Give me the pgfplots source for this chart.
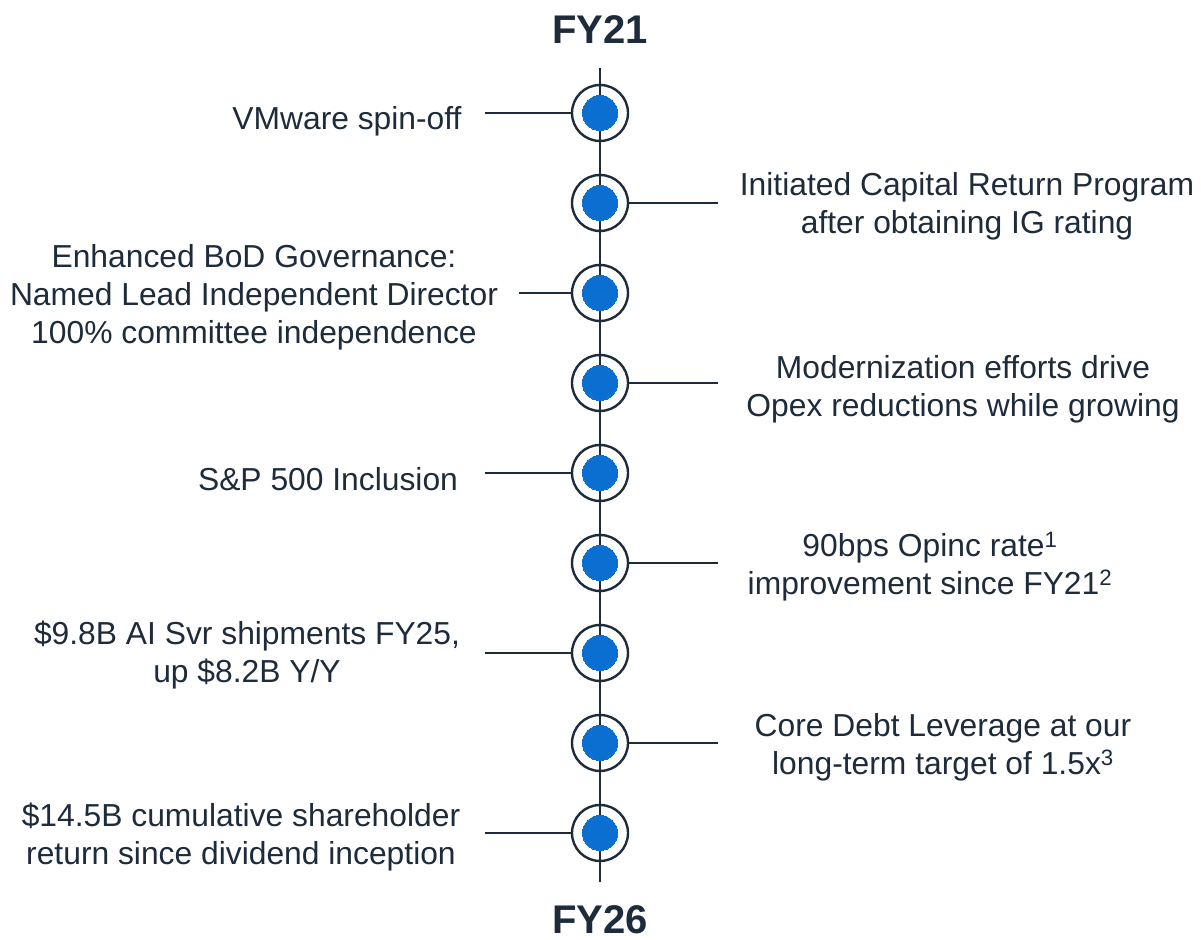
\documentclass[border=0pt]{standalone}
\usepackage{pgfplots}
\pgfplotsset{compat=1.18}
\usepackage{fontspec}
\setmainfont{Liberation Sans}
\definecolor{navy}{HTML}{1E2B3A}
\definecolor{dblue}{HTML}{0B6FD2}
\tikzset{lbl/.style={font=\fontsize{31.8bp}{38bp}\selectfont, text=navy, align=center, inner sep=0pt},
  ttl/.style={font=\fontsize{40bp}{44bp}\selectfont\bfseries, text=navy, inner sep=0pt}}
\begin{document}
\begin{tikzpicture}
\begin{axis}[
  scale only axis, width=1201bp, height=940bp,
  xmin=0, xmax=1201, ymin=0, ymax=940,
  axis lines=none, ticks=none, clip=false,
]
\path[draw=none] (rel axis cs:0,0) rectangle (rel axis cs:1,1);
% spine
\addplot[navy, line width=2bp, mark=none] coordinates {(600,872) (600,58)};
% connectors left
\addplot[navy, line width=1.6bp, mark=none] coordinates {(485,827) (572,827)};
\addplot[navy, line width=1.6bp, mark=none] coordinates {(519,647) (572,647)};
\addplot[navy, line width=1.6bp, mark=none] coordinates {(485,467) (572,467)};
\addplot[navy, line width=1.6bp, mark=none] coordinates {(485,287) (572,287)};
\addplot[navy, line width=1.6bp, mark=none] coordinates {(485,107) (572,107)};
% connectors right
\addplot[navy, line width=1.6bp, mark=none] coordinates {(628,737) (718,737)};
\addplot[navy, line width=1.6bp, mark=none] coordinates {(628,557) (718,557)};
\addplot[navy, line width=1.6bp, mark=none] coordinates {(628,377) (718,377)};
\addplot[navy, line width=1.6bp, mark=none] coordinates {(628,197) (718,197)};
% outer rings
\addplot[only marks, mark=o, mark size=28bp, mark options={draw=navy, fill=none, line width=2.4bp}]
  coordinates {(600,827) (600,737) (600,647) (600,557) (600,467) (600,377) (600,287) (600,197) (600,107)};
% inner dots
\addplot[only marks, mark=*, mark size=17.5bp, mark options={draw=dblue, line width=0pt, fill=dblue}]
  coordinates {(600,827) (600,737) (600,647) (600,557) (600,467) (600,377) (600,287) (600,197) (600,107)};
% titles
\node[ttl] at (axis cs:600,910) {FY21};
\node[ttl] at (axis cs:600,20) {FY26};
% left texts
\node[lbl] at (axis cs:347,819) {VMware spin-off};
\node[lbl] at (axis cs:254,643) {Enhanced BoD Governance:\\Named Lead Independent Director\\100\% committee independence};
\node[lbl] at (axis cs:328,461) {S\&P 500 Inclusion};
\node[lbl] at (axis cs:247,285) {\$9.8B AI Svr shipments FY25,\\up \$8.2B Y/Y};
\node[lbl] at (axis cs:241,103) {\$14.5B cumulative shareholder\\return since dividend inception};
% right texts
\node[lbl] at (axis cs:967,734) {Initiated Capital Return Program\\after obtaining IG rating};
\node[lbl] at (axis cs:963,551) {Modernization efforts drive\\Opex reductions while growing};
\node[lbl] at (axis cs:930,373) {90bps Opinc rate\textsuperscript{1}\\improvement since FY21\textsuperscript{2}};
\node[lbl] at (axis cs:943,193) {Core Debt Leverage at our\\long-term target of 1.5x\textsuperscript{3}};
\end{axis}
\end{tikzpicture}
\end{document}
